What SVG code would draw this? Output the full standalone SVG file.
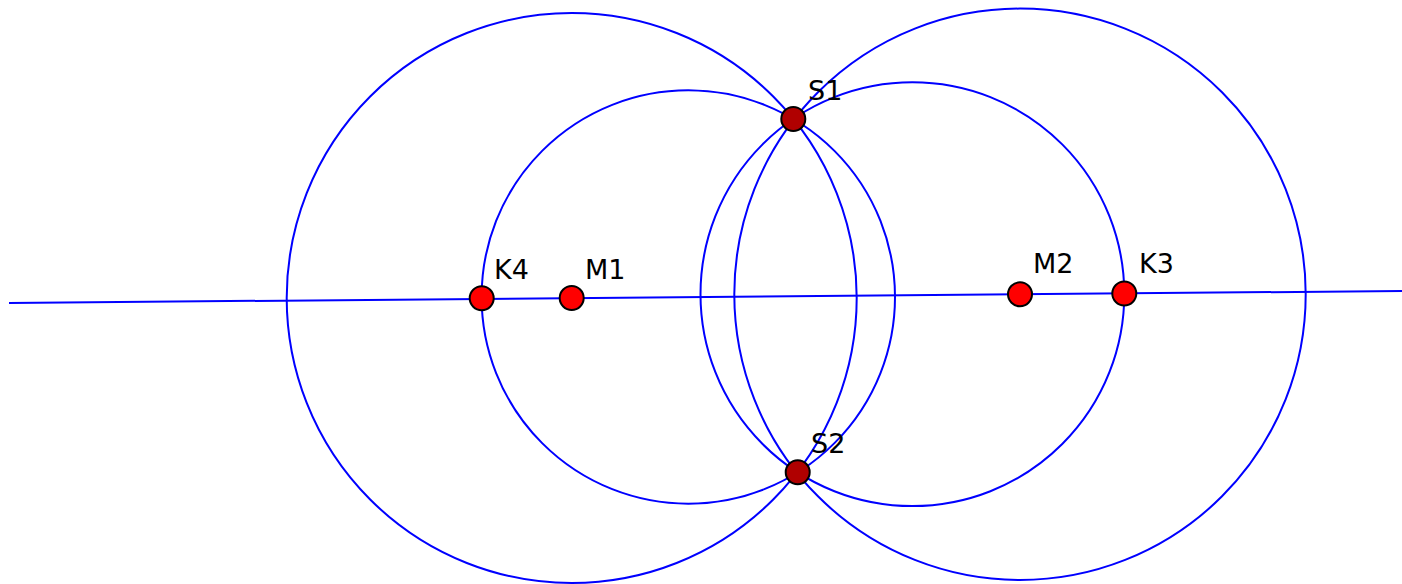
<svg xmlns="http://www.w3.org/2000/svg" width="1402" height="584" viewBox="0 0 1402 584">
<style>
.c{fill:none;stroke:#0000ff;stroke-width:2}
.p{fill:#ff0000;stroke:#000;stroke-width:2}
.s{fill:#b00000;stroke:#000;stroke-width:2}
.t{font-family:"DejaVu Sans",sans-serif;font-size:27px;fill:#000}
</style>
<g id="connectors">
<circle class="c" cx="571.7" cy="298" r="285"/>
<circle class="c" cx="1020" cy="294.3" r="285.7"/>
<circle class="c" cx="688.3" cy="297" r="206.7"/>
<circle class="c" cx="912.4" cy="294.2" r="211.9"/>
<line class="c" x1="9" y1="303" x2="1402" y2="291"/>
</g>
<g id="K4"><circle class="p" cx="481.7" cy="298.3" r="12"/><text class="t" x="494" y="279">K4</text></g>
<g id="M1"><circle class="p" cx="571.7" cy="298" r="12"/><text class="t" x="585" y="279">M1</text></g>
<g id="M2"><circle class="p" cx="1020" cy="294.3" r="12"/><text class="t" x="1033" y="273">M2</text></g>
<g id="K3"><circle class="p" cx="1124.3" cy="293.5" r="12"/><text class="t" x="1139" y="273">K3</text></g>
<g id="S1"><circle class="s" cx="793.3" cy="119" r="12"/><text class="t" x="808" y="100">S1</text></g>
<g id="S2"><circle class="s" cx="797.7" cy="472.3" r="12"/><text class="t" x="811" y="453">S2</text></g>
</svg>
